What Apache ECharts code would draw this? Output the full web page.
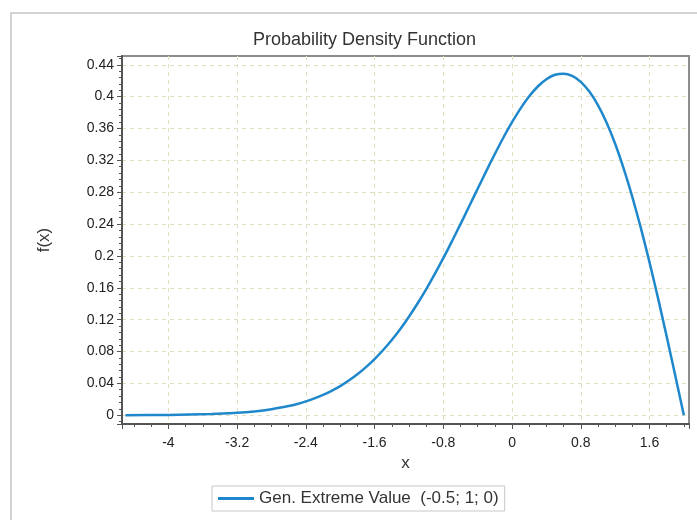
<!DOCTYPE html>
<html>
<head>
<meta charset="utf-8">
<title>Probability Density Function</title>
<script src="https://cdn.jsdelivr.net/npm/echarts@6/dist/echarts.min.js"></script>
<style>
  html, body { margin: 0; padding: 0; background: #fff; }
  #chart { width: 697px; height: 520px; }
</style>
</head>
<body>
<div id="chart"></div>
<script>
// values
const xValues = [-4.5, -4.0, -3.5, -3.2, -3.0, -2.8, -2.6, -2.5, -2.4, -2.3, -2.2, -2.1, -2.0,
  -1.9, -1.8, -1.7, -1.6, -1.5, -1.4, -1.3, -1.2, -1.1, -1.0, -0.9, -0.8, -0.7, -0.6, -0.5,
  -0.4, -0.3, -0.2, -0.1, 0, 0.1, 0.2, 0.3, 0.4, 0.5, 0.6, 0.7, 0.8, 0.9, 1.0, 1.1, 1.2, 1.3,
  1.4, 1.5, 1.6, 1.7, 1.8, 1.9, 2.0]
const densityValues = [0.0001, 0.0004, 0.0014, 0.003, 0.0048, 0.0076, 0.0116, 0.0142, 0.0174,
  0.0211, 0.0255, 0.0307, 0.0366, 0.0435, 0.0514, 0.0604, 0.0705, 0.0819, 0.0945, 0.1084,
  0.1237, 0.1403, 0.1581, 0.1771, 0.1972, 0.2182, 0.2399, 0.262, 0.2843, 0.3065, 0.328, 0.3487,
  0.3679, 0.3853, 0.4004, 0.4127, 0.4218, 0.4274, 0.4288, 0.426, 0.4186, 0.4064, 0.3894, 0.3675,
  0.3409, 0.3096, 0.2742, 0.2349, 0.1922, 0.1467, 0.099, 0.0499, 0]
const seriesName = 'Gen. Extreme Value  (-0.5; 1; 0)'

const font = 'Liberation Sans'
const axisColor = '#555'
const gridColor = '#e3dfc3'
const lineColor = '#1f88cc'

const chart = echarts.init(document.getElementById('chart'), null, {renderer: 'canvas'})

const option = {
  backgroundColor: '#fff',
  animation: false,
  title: {
    text: 'Probability Density Function',
    left: 248,
    top: 26,
    textStyle: {fontFamily: font, fontSize: 18, fontWeight: 'normal', color: '#333'}
  },
  legend: {
    left: 212,
    top: 486,
    padding: [4, 6],
    borderColor: '#c8c8c8',
    borderWidth: 1,
    icon: 'rect',
    itemWidth: 36,
    itemHeight: 3,
    itemGap: 4,
    textStyle: {fontFamily: font, fontSize: 17, color: '#333'},
    data: [seriesName]
  },
  grid: {
    left: 122,
    top: 56,
    right: 8,
    bottom: 96,
    show: true,
    borderColor: '#8c8c8c',
    borderWidth: 2
  },
  xAxis: {
    type: 'value',
    min: -4.54,
    max: 2.06,
    minInterval: 0.8,
    maxInterval: 0.8,
    name: 'x',
    nameLocation: 'middle',
    nameGap: 30,
    nameTextStyle: {fontFamily: font, fontSize: 17, color: '#333'},
    axisLine: {show: true, onZero: false, lineStyle: {color: axisColor, width: 2}},
    axisTick: {show: true, length: 5, lineStyle: {color: axisColor}},
    minorTick: {show: true, splitNumber: 4, length: 3, lineStyle: {color: axisColor}},
    axisLabel: {
      fontFamily: font, fontSize: 14, color: '#222', margin: 12,
      showMinLabel: false, showMaxLabel: false
    },
    splitLine: {
      show: true, showMinLine: false, showMaxLine: false,
      lineStyle: {color: gridColor, type: [4, 4], width: 1}
    }
  },
  yAxis: {
    type: 'value',
    min: -0.011,
    max: 0.451,
    minInterval: 0.04,
    maxInterval: 0.04,
    name: 'f(x)',
    nameLocation: 'middle',
    nameGap: 69,
    nameRotate: 90,
    nameTextStyle: {fontFamily: font, fontSize: 17, color: '#333'},
    axisLine: {show: true, onZero: false, lineStyle: {color: axisColor, width: 2}},
    axisTick: {show: true, length: 5, lineStyle: {color: axisColor}},
    minorTick: {show: true, splitNumber: 5, length: 3, lineStyle: {color: axisColor}},
    axisLabel: {
      fontFamily: font, fontSize: 14, color: '#222', margin: 8,
      showMinLabel: false, showMaxLabel: false,
      formatter: v => String(Math.round(v * 100) / 100)
    },
    splitLine: {
      show: true, showMinLine: false, showMaxLine: false,
      lineStyle: {color: gridColor, type: [4, 4], width: 1}
    }
  },
  graphic: [{
    type: 'polyline',
    silent: true,
    shape: {points: [[11, 520], [11, 13], [697, 13]]},
    style: {stroke: '#d2d2d2', lineWidth: 2, fill: null}
  }],
  series: [{
    name: seriesName,
    type: 'line',
    data: xValues.map((x, i) => [x, densityValues[i]]),
    symbol: 'none',
    smooth: 0.2,
    lineStyle: {color: lineColor, width: 2.5},
    itemStyle: {color: lineColor}
  }]
}

chart.setOption(option)
</script>
</body>
</html>
